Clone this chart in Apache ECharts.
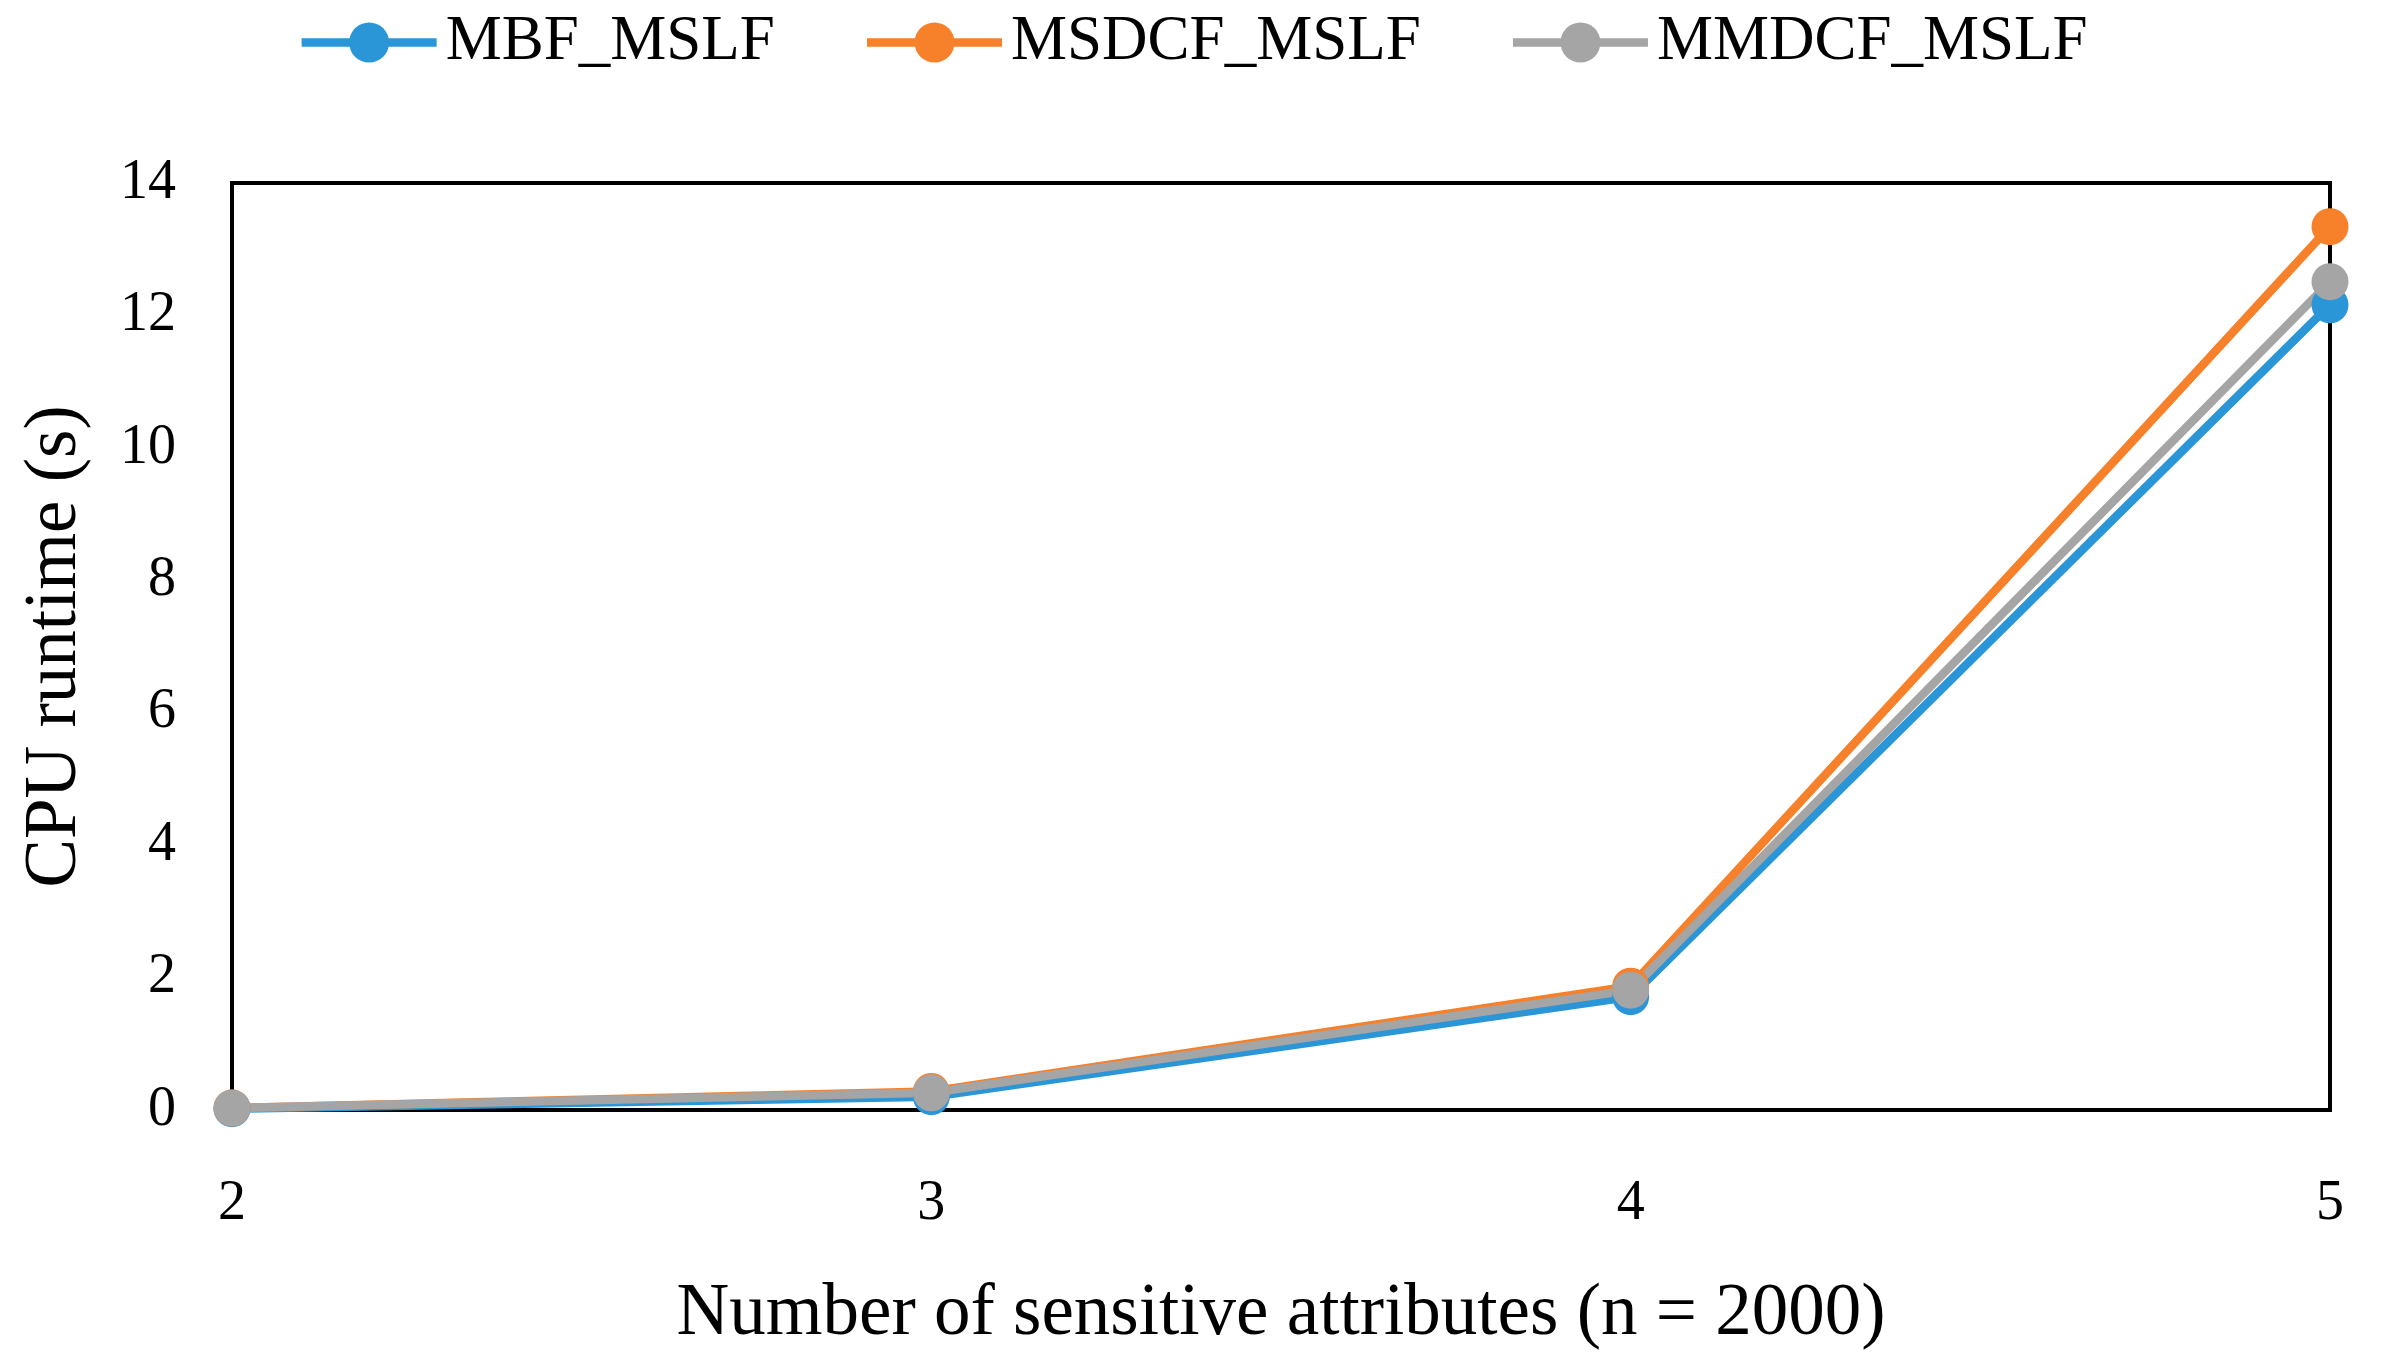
<!DOCTYPE html>
<html>
<head>
<meta charset="utf-8">
<script src="https://cdn.jsdelivr.net/npm/echarts@6/dist/echarts.min.js"></script>
<style>html,body{margin:0;padding:0;background:#fff;}#c{width:2385px;height:1367px;}</style>
</head>
<body>
<div id="c"></div>
<script>
var categories = ['2', '3', '4', '5'];
var mbf = [0.02, 0.2, 1.71, 12.16];
var msdcf = [0.03, 0.28, 1.87, 13.34];
var mmdcf = [0.03, 0.26, 1.81, 12.51];
var seriesNames = ['MBF_MSLF', 'MSDCF_MSLF', 'MMDCF_MSLF'];
var colors = ['#2A96D8', '#F7802A', '#A5A5A5'];

var font = '"Liberation Serif", "DejaVu Serif", serif';
var chart = echarts.init(document.getElementById('c'));
function mk(name, data, color) {
  return {
    name: name, type: 'line', data: data,
    symbol: 'circle', symbolSize: 37,
    lineStyle: { width: 8.5, color: color },
    itemStyle: { color: color },
    emphasis: { disabled: true }
  };
}
chart.setOption({
  animation: false,
  color: colors,
  legend: {
    top: 6, left: 'center',
    itemWidth: 135, itemHeight: 50, itemGap: 88,
    lineStyle: { width: 8.5 },
    textStyle: { fontFamily: font, fontSize: 63, color: '#000', padding: [0, 0, 0, 4] },
    data: seriesNames
  },
  grid: { left: 232, right: 55, top: 183, bottom: 257, show: true, borderColor: '#000', borderWidth: 4, backgroundColor: 'transparent' },
  xAxis: {
    type: 'category', data: categories, boundaryGap: false,
    name: 'Number of sensitive attributes (n = 2000)', nameLocation: 'middle', nameGap: 168,
    nameTextStyle: { fontFamily: font, fontSize: 73, color: '#000' },
    axisLine: { lineStyle: { color: '#000', width: 4 } },
    axisTick: { show: false },
    axisLabel: { fontFamily: font, fontSize: 56, color: '#000', margin: 66 },
    splitLine: { show: false }
  },
  yAxis: {
    type: 'value', min: 0, max: 14, interval: 2,
    name: 'CPU runtime (s)', nameLocation: 'middle', nameGap: 140,
    nameTextStyle: { fontFamily: font, fontSize: 73, color: '#000' },
    axisLine: { show: true, lineStyle: { color: '#000', width: 4 } },
    axisTick: { show: false },
    axisLabel: { fontFamily: font, fontSize: 56, color: '#000', margin: 56 },
    splitLine: { show: false }
  },
  series: [mk(seriesNames[0], mbf, colors[0]), mk(seriesNames[1], msdcf, colors[1]), mk(seriesNames[2], mmdcf, colors[2])]
});
</script>
</body>
</html>
